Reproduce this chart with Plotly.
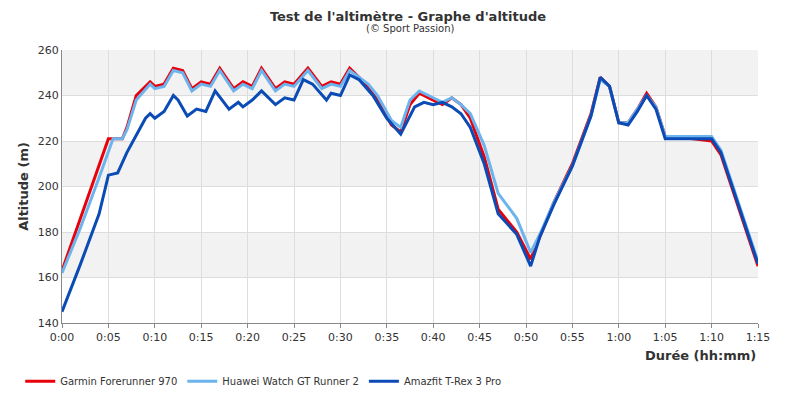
import plotly.graph_objects as go

# temps en minutes
t_garmin = [0, 2, 4, 5, 6.5, 7, 8, 9.5, 10, 11, 12, 13, 14, 15, 16, 17, 18.5, 19.5, 20.5, 21.5, 23, 24, 25, 26.5, 28, 29, 30, 31,
            33, 34, 35.5, 36.5, 37.5, 38.5, 40, 41, 42, 43, 44, 45.5, 47, 49, 50.5, 51.5, 53, 55, 57, 58, 59, 60, 61, 62, 63, 64,
            65, 68, 70, 71, 73, 75]
garmin = [163, 186, 209, 221, 221, 226, 240, 246, 244, 245, 252, 251, 243, 246, 245, 252, 243, 246, 244, 252, 243, 246, 245, 252,
          244, 246, 245, 252, 244, 238, 227, 224, 236, 241, 238, 236, 239, 236, 230, 213, 190, 180, 168, 178, 193, 210, 232, 248,
          244, 228, 228, 234, 241, 235, 222, 221, 220, 214, 190, 165]

t_huawei = [0, 2, 4, 5.5, 6.5, 7, 8, 9.5, 10, 11, 12, 13, 14, 15, 16, 17, 18.5, 19.5, 20.5, 21.5, 23, 24, 25, 26.5, 28, 29, 30, 31,
            33, 34, 35.5, 36.5, 37.5, 38.5, 40, 41, 42, 43, 44, 45.5, 47, 49, 50.5, 51.5, 53, 55, 57, 58, 59, 60, 61, 62, 63, 64,
            65, 68, 70, 71, 73, 75]
huawei = [162, 182, 204, 221, 221, 225, 238, 245, 243, 244, 251, 250, 242, 245, 244, 251, 242, 245, 243, 251, 242, 245, 244, 251,
          243, 245, 244, 251, 245, 240, 229, 226, 238, 242, 239, 237, 239, 236, 232, 218, 197, 186, 171, 179, 193, 209, 231, 247,
          244, 228, 228, 234, 240, 235, 222, 222, 222, 216, 192, 167]

t_amazfit = [0, 2, 4, 5, 6, 7, 9, 9.5, 10, 11, 12, 12.5, 13.5, 14.5, 15.5, 16.5, 18, 19, 19.5, 20.5, 21.5, 23, 24, 25, 26, 27,
             28.5, 29, 30, 31, 32, 33.5, 35, 36.5, 38, 39, 40, 41, 42, 43, 44, 45.5, 47, 49, 50.5, 51.5, 53, 55, 57, 58, 59, 60,
             61, 62, 63, 64, 65, 68, 70, 71, 73, 75]
amazfit = [145, 166, 188, 205, 206, 215, 230, 232, 230, 233, 240, 238, 231, 234, 233, 242, 234, 237, 235, 238, 242, 236, 239, 238,
           247, 245, 238, 241, 240, 249, 247, 240, 230, 223, 235, 237, 236, 237, 235, 232, 226, 210, 188, 179, 165, 178, 192, 209,
           231, 248, 244, 228, 227, 233, 240, 234, 221, 221, 221, 215, 191, 166]

tick_vals = list(range(0, 80, 5))
tick_text = ["0:00", "0:05", "0:10", "0:15", "0:20", "0:25", "0:30", "0:35", "0:40", "0:45", "0:50", "0:55",
             "1:00", "1:05", "1:10", "1:15"]

fig = go.Figure()
# bandes grises
for y0 in [160, 200, 240]:
    fig.add_shape(type="rect", xref="paper", x0=0, x1=1, y0=y0, y1=y0 + 20,
                  fillcolor="#f2f2f2", line_width=0, layer="below")

fig.add_trace(go.Scatter(x=t_garmin, y=garmin, name="Garmin Forerunner 970", mode="lines",
                         line=dict(color="#e8000b", width=3)))
fig.add_trace(go.Scatter(x=t_huawei, y=huawei, name="Huawei Watch GT Runner 2", mode="lines",
                         line=dict(color="#6cb4ee", width=3)))
fig.add_trace(go.Scatter(x=t_amazfit, y=amazfit, name="Amazfit T-Rex 3 Pro", mode="lines",
                         line=dict(color="#0a4bb5", width=3)))

fig.update_layout(
    width=800, height=400,
    paper_bgcolor="white", plot_bgcolor="white",
    font=dict(family="DejaVu Sans", size=11, color="#333"),
    margin=dict(l=51, r=50, t=42, b=80),
    title=dict(text="<b>Test de l'altimètre - Graphe d'altitude</b>",
               x=0.5, xanchor="center", y=0.99, yref="container", yanchor="top", font=dict(size=13)),
    xaxis=dict(range=[0, 75], tickvals=tick_vals, ticktext=tick_text, showgrid=True, gridcolor="#ddd",
               linecolor="#888", showline=True, zeroline=False, ticks="outside", tickcolor="#888", ticklen=4,
               automargin=False, tickfont=dict(size=11)),
    yaxis=dict(range=[140, 260], dtick=20, showgrid=True, gridcolor="#ddd", linecolor="#888", showline=True,
               zeroline=False, automargin=False, tickfont=dict(size=11),
               title=dict(text="<b>Altitude (m)</b>", font=dict(size=13), standoff=6)),
    legend=dict(orientation="h", x=-0.06, y=-0.16, xanchor="left", yanchor="top", font=dict(size=10)),
    showlegend=True,
)
fig.add_annotation(text="(© Sport Passion)", xref="paper", yref="paper", x=0.5, y=1.05,
                   xanchor="center", yanchor="bottom", showarrow=False, font=dict(size=10))
fig.add_annotation(text="<b>Durée (hh:mm)</b>", xref="paper", yref="paper", x=1, y=-0.085,
                   xanchor="right", yanchor="top", showarrow=False, font=dict(size=13))

fig.write_html("out.html")
